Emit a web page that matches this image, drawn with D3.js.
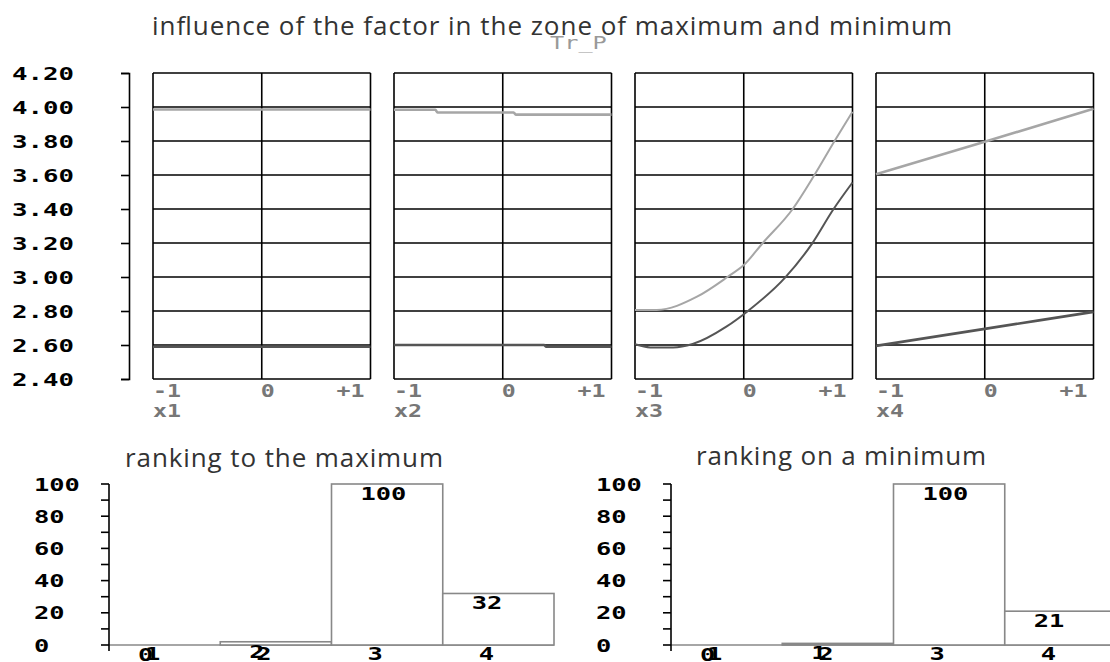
<!DOCTYPE html>
<html>
<head>
<meta charset="utf-8">
<script src="https://cdn.jsdelivr.net/npm/d3@7"></script>
<style>
  html, body { margin: 0; padding: 0; background: #fff; }
  svg { display: block; }
</style>
</head>
<body>
<svg id="chart" width="1110" height="662"></svg>
<script>
// ---- data ----
const factorNames = ["x1", "x2", "x3", "x4"];
const factorTickValues = [-1, 0, 1];
const factorTickLabels = ["-1", "0", "+1"];
const responseTicks = [2.4, 2.6, 2.8, 3.0, 3.2, 3.4, 3.6, 3.8, 4.0, 4.2];

// response at the maximum zone, per factor: [factor level, value]
const maxX1 = [[-1, 3.985], [1, 3.985]];
const maxX2 = [[-1, 3.984], [-0.62, 3.984], [-0.6, 3.968], [0.1, 3.968], [0.12, 3.955], [1, 3.955]];
const maxX3 = [[-1, 2.806], [-0.8, 2.806], [-0.43, 2.884], [-0.15, 3.0], [0, 3.07], [0.175, 3.2],
               [0.45, 3.4], [0.65, 3.6], [0.835, 3.8], [1, 3.972]];
const maxX4 = [[-1, 3.605], [0, 3.795], [1, 3.99]];

// response at the minimum zone, per factor
const minX1 = [[-1, 2.59], [1, 2.59]];
const minX2 = [[-1, 2.6], [0.38, 2.6], [0.4, 2.59], [1, 2.59]];
const minX3 = [[-1, 2.604], [-0.86, 2.586], [-0.65, 2.586], [-0.47, 2.606], [-0.16, 2.708],
               [0.03, 2.796], [0.38, 2.996], [0.63, 3.198], [0.82, 3.394], [1, 3.556]];
const minX4 = [[-1, 2.595], [0, 2.695], [1, 2.795]];

const maxSeries = [maxX1, maxX2, maxX3, maxX4];
const minSeries = [minX1, minX2, minX3, minX4];

// factor rankings
const rankCategories = ["1", "2", "3", "4"];
const rankToMax = [0, 2, 100, 32];
const rankToMin = [0, 1, 100, 21];
const rankTicksMajor = [0, 20, 40, 60, 80, 100];
const rankTicksMinor = [0, 10, 20, 30, 40, 50, 60, 70, 80, 90, 100];

// ---- drawing ----
const svg = d3.select("#chart");
const MONO = "'DejaVu Sans Mono', 'Liberation Mono', monospace";
const SANS = "'Open Sans', 'Noto Sans', sans-serif";

// wide bold digits, stretched to a fixed cell width
function cellText(g, str, x, y, opt = {}) {
  const cw = opt.cw || 15.3;
  const w = str.length * cw;
  let x0 = x;
  if (opt.anchor === "end") x0 = x - w;
  if (opt.anchor === "middle") x0 = x - w / 2;
  return g.append("text")
    .attr("x", x0).attr("y", y)
    .attr("font-family", MONO)
    .attr("font-size", opt.size || 18)
    .attr("font-weight", opt.weight || "bold")
    .attr("fill", opt.fill || "#000")
    .attr("textLength", w)
    .attr("lengthAdjust", "spacingAndGlyphs")
    .text(str);
}

// titles
svg.append("text")
  .attr("x", 152).attr("y", 35)
  .attr("font-family", SANS).attr("font-size", 26)
  .attr("fill", "#333")
  .attr("textLength", 800).attr("lengthAdjust", "spacing")
  .text("influence of the factor in the zone of maximum and minimum");

cellText(svg, "Tr_P", 550, 49, { cw: 14.2, size: 17, weight: "normal", fill: "#999" });

// ---- factor influence panels ----
const yResp = d3.scaleLinear().domain([2.4, 4.2]).range([379, 73]);

const respAxis = svg.append("g")
  .attr("transform", "translate(129,0)")
  .call(d3.axisLeft(yResp).tickValues(responseTicks).tickSize(8).tickSizeOuter(8).tickFormat(""));
respAxis.selectAll("path, line").attr("stroke", "#000").attr("stroke-width", 1.6);

responseTicks.forEach(v => cellText(svg, d3.format(".2f")(v), 12, yResp(v) + 6.5, { cw: 15.5 }));

const panelLeft0 = 153, panelStep = 241, panelW = 217.5;

const line = d3.line().curve(d3.curveMonotoneX);

factorNames.forEach((name, i) => {
  const left = panelLeft0 + i * panelStep;
  const x = d3.scaleLinear().domain([-1, 1]).range([left, left + panelW]);
  const g = svg.append("g");

  // grid
  g.selectAll("line.h").data(responseTicks).join("line")
    .attr("x1", x(-1)).attr("x2", x(1))
    .attr("y1", d => yResp(d)).attr("y2", d => yResp(d))
    .attr("stroke", "#000").attr("stroke-width", 1.6);
  g.selectAll("line.v").data(factorTickValues).join("line")
    .attr("x1", d => x(d)).attr("x2", d => x(d))
    .attr("y1", yResp(4.2)).attr("y2", yResp(2.4))
    .attr("stroke", "#000").attr("stroke-width", 1.6);

  // response curves
  const lw = i === 2 ? 2 : 2.6;
  g.append("path")
    .attr("d", line(maxSeries[i].map(d => [x(d[0]), yResp(d[1])])))
    .attr("fill", "none").attr("stroke", "#a6a6a6").attr("stroke-width", lw);
  g.append("path")
    .attr("d", line(minSeries[i].map(d => [x(d[0]), yResp(d[1])])))
    .attr("fill", "none").attr("stroke", "#555").attr("stroke-width", lw);

  // factor level labels
  const gray = { cw: 14, fill: "#777" };
  cellText(g, factorTickLabels[0], x(-1), 397, gray);
  cellText(g, factorTickLabels[1], x(0) - 1, 397, gray);
  cellText(g, factorTickLabels[2], x(1) - 6, 397, Object.assign({ anchor: "end" }, gray));
  cellText(g, name, x(-1), 417, gray);
});

// ---- ranking bar charts ----
const yRank = d3.scaleLinear().domain([0, 100]).range([645, 484]);

function rankChart(values, axisX, labelX, title, titleX, titleY, titleW) {
  const g = svg.append("g");
  const xb = d3.scaleBand().domain(rankCategories).range([axisX, axisX + 445]);

  g.append("text")
    .attr("x", titleX).attr("y", titleY)
    .attr("font-family", SANS).attr("font-size", 26)
    .attr("fill", "#333")
    .attr("textLength", titleW).attr("lengthAdjust", "spacing")
    .text(title);

  // baseline
  g.append("line")
    .attr("x1", axisX).attr("x2", axisX + 445)
    .attr("y1", yRank(0)).attr("y2", yRank(0))
    .attr("stroke", "#888").attr("stroke-width", 1.6);

  // bars
  g.selectAll("rect").data(values).join("rect")
    .attr("x", (d, i) => xb(rankCategories[i]))
    .attr("y", d => yRank(d))
    .attr("width", xb.bandwidth())
    .attr("height", d => yRank(0) - yRank(d))
    .attr("fill", "#fff").attr("stroke", "#888").attr("stroke-width", 1.6);

  // axis
  g.append("line")
    .attr("x1", axisX).attr("x2", axisX)
    .attr("y1", yRank(100)).attr("y2", yRank(0) + 6)
    .attr("stroke", "#000").attr("stroke-width", 1.6);
  g.selectAll("line.tick").data(rankTicksMinor).join("line")
    .attr("x1", axisX - 8).attr("x2", axisX)
    .attr("y1", d => yRank(d)).attr("y2", d => yRank(d))
    .attr("stroke", "#000").attr("stroke-width", 1.6);
  rankTicksMajor.forEach(v => cellText(g, String(v), labelX, yRank(v) + 6.5));

  // value labels and category labels
  values.forEach((v, i) => {
    const bx = xb(rankCategories[i]);
    cellText(g, String(v), bx + 29, yRank(v) + 16);
    cellText(g, rankCategories[i], bx + 36, 660);
  });
}

rankChart(rankToMax, 109, 34, "ranking to the maximum", 125, 467, 318);
rankChart(rankToMin, 671, 596, "ranking on a minimum", 696, 465, 290);
</script>
</body>
</html>
